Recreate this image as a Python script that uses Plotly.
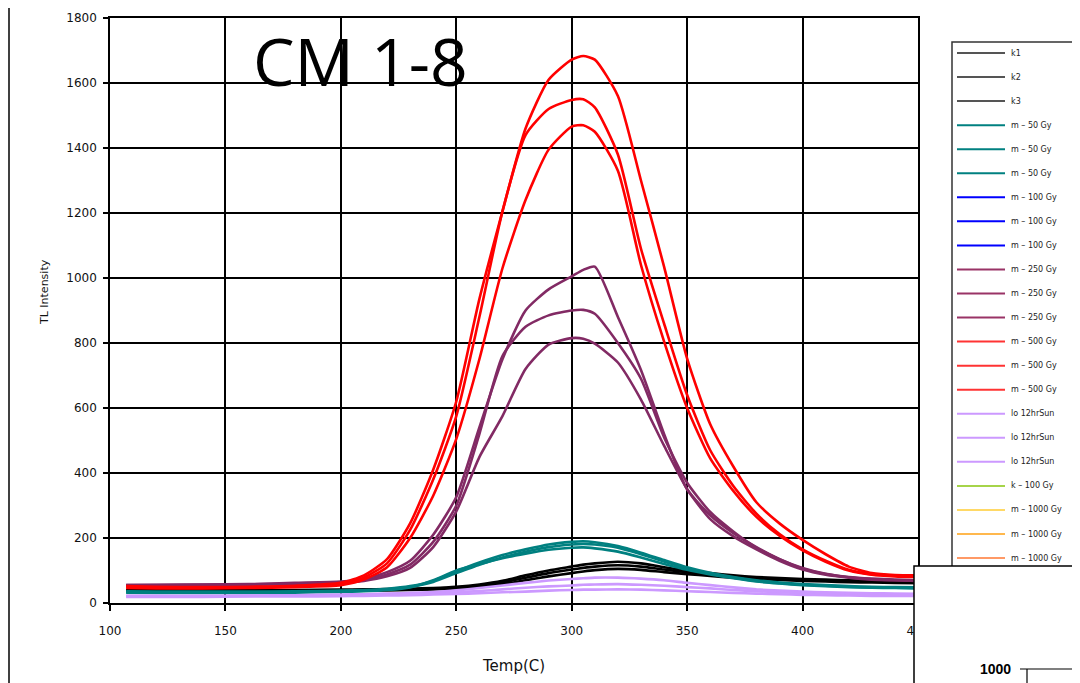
import plotly.graph_objects as go

# ---------------- data ----------------
temp = [107, 120, 140, 160, 180, 200, 210, 220, 230, 240, 250, 260, 270, 280, 290, 300,
        305, 310, 320, 330, 340, 350, 360, 370, 380, 390, 400, 410, 420, 430, 440, 450]

k1 = [40, 39, 39, 39, 40, 41, 42, 43, 44, 46, 50, 57, 68, 85, 100, 112, 118, 122, 127, 122, 110, 100, 92, 85, 80, 77, 74, 72, 70, 68, 67, 66]
k2 = [38, 37, 37, 37, 38, 39, 40, 41, 42, 44, 48, 54, 63, 78, 92, 103, 108, 112, 116, 112, 103, 95, 88, 82, 77, 74, 71, 69, 67, 66, 65, 64]
k3 = [36, 35, 35, 35, 36, 37, 38, 39, 40, 42, 45, 50, 58, 70, 82, 92, 97, 101, 105, 102, 95, 89, 83, 78, 74, 71, 68, 66, 64, 63, 62, 61]

gy50_a = [36, 35, 35, 35, 36, 38, 40, 44, 52, 68, 98, 125, 148, 165, 180, 188, 190, 187, 175, 155, 132, 110, 93, 80, 70, 63, 58, 55, 52, 50, 49, 48]
gy50_b = [34, 33, 33, 33, 34, 36, 38, 42, 50, 65, 92, 118, 140, 158, 172, 180, 182, 180, 170, 150, 128, 106, 90, 78, 68, 61, 56, 53, 50, 48, 47, 46]
gy50_c = [32, 31, 31, 31, 32, 34, 36, 40, 48, 70, 100, 120, 138, 152, 164, 170, 171, 168, 158, 140, 120, 102, 88, 76, 66, 60, 55, 52, 49, 47, 46, 45]

gy250_a = [55, 56, 57, 58, 62, 66, 74, 95, 130, 210, 326, 540, 750, 900, 965, 1005, 1025, 1035, 880, 717, 520, 350, 270, 215, 172, 135, 108, 90, 80, 75, 72, 70]
gy250_b = [55, 55, 56, 57, 60, 64, 70, 88, 118, 188, 300, 520, 760, 850, 885, 900, 902, 890, 800, 690, 510, 370, 280, 220, 170, 135, 106, 89, 79, 73, 70, 68]
gy250_c = [54, 54, 55, 56, 58, 62, 68, 82, 108, 172, 282, 449, 575, 720, 795, 815, 813, 798, 740, 626, 484, 350, 258, 205, 165, 130, 103, 87, 78, 72, 70, 68]

gy500_a = [52, 50, 49, 50, 53, 62, 85, 135, 245, 410, 620, 935, 1205, 1460, 1610, 1672, 1683, 1672, 1560, 1300, 1035, 752, 550, 420, 310, 245, 194, 150, 112, 92, 86, 85]
gy500_b = [48, 47, 46, 48, 51, 58, 78, 122, 225, 380, 575, 880, 1205, 1440, 1520, 1548, 1550, 1525, 1380, 1090, 860, 640, 470, 360, 275, 212, 165, 130, 102, 88, 84, 82]
gy500_c = [46, 45, 45, 46, 49, 55, 72, 110, 200, 330, 505, 750, 1030, 1240, 1395, 1466, 1470, 1450, 1330, 1040, 805, 600, 445, 345, 265, 207, 162, 127, 100, 87, 82, 80]

sun_a = [22, 22, 22, 23, 24, 26, 27, 29, 31, 34, 39, 46, 54, 62, 69, 74, 76, 78, 78, 75, 70, 62, 55, 48, 42, 38, 35, 33, 31, 30, 29, 28]
sun_b = [21, 21, 21, 22, 23, 24, 25, 26, 28, 30, 33, 37, 42, 47, 51, 54, 56, 57, 58, 56, 53, 49, 45, 40, 36, 33, 30, 28, 27, 26, 25, 25]
sun_c = [19, 19, 19, 20, 20, 21, 22, 23, 24, 26, 28, 30, 33, 35, 38, 40, 41, 41, 42, 41, 39, 36, 34, 31, 29, 27, 25, 24, 23, 22, 22, 22]

legend_names = ["k1", "k2", "k3",
                "m \u2013 50 Gy", "m \u2013 50 Gy", "m \u2013 50 Gy",
                "m \u2013 100 Gy", "m \u2013 100 Gy", "m \u2013 100 Gy",
                "m \u2013 250 Gy", "m \u2013 250 Gy", "m \u2013 250 Gy",
                "m \u2013 500 Gy", "m \u2013 500 Gy", "m \u2013 500 Gy",
                "lo 12hrSun", "lo 12hrSun", "lo 12hrSun",
                "k \u2013 100 Gy",
                "m \u2013 1000 Gy", "m \u2013 1000 Gy", "m \u2013 1000 Gy"]
legend_colors = ["#555555", "#555555", "#555555",
                 "#008080", "#008080", "#008080",
                 "#0000ff", "#0000ff", "#0000ff",
                 "#993366", "#993366", "#993366",
                 "#ff3333", "#ff3333", "#ff3333",
                 "#cc99ff", "#cc99ff", "#cc99ff",
                 "#a6d44a",
                 "#ffd966", "#ffb84d", "#ff9966"]

# plotted series (order as drawn)
series = [
    ("k1", k1, "#000000"), ("k2", k2, "#000000"), ("k3", k3, "#000000"),
    ("m \u2013 50 Gy", gy50_a, "#008080"), ("m \u2013 50 Gy", gy50_b, "#008080"), ("m \u2013 50 Gy", gy50_c, "#008080"),
    ("m \u2013 250 Gy", gy250_a, "#822a64"), ("m \u2013 250 Gy", gy250_b, "#822a64"), ("m \u2013 250 Gy", gy250_c, "#822a64"),
    ("m \u2013 500 Gy", gy500_a, "#ff0000"), ("m \u2013 500 Gy", gy500_b, "#ff0000"), ("m \u2013 500 Gy", gy500_c, "#ff0000"),
    ("lo 12hrSun", sun_a, "#cc99ff"), ("lo 12hrSun", sun_b, "#cc99ff"), ("lo 12hrSun", sun_c, "#cc99ff"),
]

x_ticks = [100, 150, 200, 250, 300, 350, 400, 450]
y_ticks = [0, 200, 400, 600, 800, 1000, 1200, 1400, 1600, 1800]

# ---------------- layout geometry (page pixels; page body has an 8px margin) ----------------
OFF = 8
W, H = 1080 - OFF, 683 - OFF
PL, PR, PT, PB = 110, 918, 18, 603          # plot area in page pixels
L, T = PL - OFF, PT - OFF
R, B = W - (PR - OFF), H - (PB - OFF)
PW, PH = PR - PL, PB - PT


def px(x):
    return (x - PL) / PW


def py(y):
    return (PB - y) / PH


fig = go.Figure()
for name, vals, col in series:
    fig.add_trace(go.Scatter(x=temp, y=vals, mode="lines", name=name,
                             line=dict(color=col, width=2.6, shape="spline", smoothing=0.6),
                             showlegend=False))

tick_font = dict(family="DejaVu Sans", size=12, color="#111111")
fig.update_xaxes(range=[100, 450], tickvals=x_ticks, showgrid=True, gridcolor="#000000", gridwidth=1.6,
                 showline=True, linecolor="#000000", linewidth=1.6, mirror=True,
                 ticks="outside", ticklen=6, tickcolor="#000000", tickwidth=1.5,
                 tickfont=tick_font, ticklabelstandoff=10, zeroline=False)
fig.update_yaxes(range=[0, 1800], tickvals=y_ticks, showgrid=True, gridcolor="#000000", gridwidth=1.6,
                 showline=True, linecolor="#000000", linewidth=1.6, mirror=True,
                 ticks="outside", ticklen=5, tickcolor="#000000", tickwidth=1.5,
                 tickfont=tick_font, ticklabelstandoff=4, zeroline=False)

shapes = []
annotations = []

# axis titles
annotations.append(dict(xref="paper", yref="paper", x=px(513), y=py(666), text="Temp(C)", showarrow=False,
                        xanchor="center", yanchor="middle",
                        font=dict(family="DejaVu Sans", size=15, color="#111111")))
annotations.append(dict(xref="paper", yref="paper", x=px(44), y=py(292), text="TL Intensity", showarrow=False,
                        xanchor="center", yanchor="middle", textangle=-90,
                        font=dict(family="DejaVu Sans", size=11, color="#111111")))
# big label
annotations.append(dict(xref="paper", yref="paper", x=px(360), y=py(60), text="CM 1-8", showarrow=False,
                        xanchor="center", yanchor="middle",
                        font=dict(family="Open Sans", size=66, color="#000000")))

# legend box and entries
shapes.append(dict(type="rect", xref="paper", yref="paper", x0=px(952), x1=px(1077), y0=py(600), y1=py(42),
                   line=dict(color="#333333", width=1.5), fillcolor="#ffffff", layer="above"))
for i, (nm, col) in enumerate(zip(legend_names, legend_colors)):
    yy = 53 + i * 24.05
    shapes.append(dict(type="line", xref="paper", yref="paper", x0=px(957), x1=px(1005), y0=py(yy), y1=py(yy),
                       line=dict(color=col, width=2), layer="above"))
    annotations.append(dict(xref="paper", yref="paper", x=px(1009), y=py(yy), text=nm, showarrow=False,
                            xanchor="left", yanchor="middle",
                            font=dict(family="DejaVu Sans", size=8, color="#222222")))

# overlapping second chart panel in the lower right corner
shapes.append(dict(type="rect", xref="paper", yref="paper", x0=px(914), x1=px(1100), y0=py(700), y1=py(566),
                   line=dict(color="#000000", width=1.5), fillcolor="#ffffff", layer="above"))
shapes.append(dict(type="line", xref="paper", yref="paper", x0=px(1020), x1=px(1085), y0=py(669), y1=py(669),
                   line=dict(color="#000000", width=1.2), layer="above"))
shapes.append(dict(type="line", xref="paper", yref="paper", x0=px(1027), x1=px(1027), y0=py(669), y1=py(700),
                   line=dict(color="#000000", width=1.2), layer="above"))
annotations.append(dict(xref="paper", yref="paper", x=px(1013), y=py(669), text="<b>1000</b>", showarrow=False,
                        xanchor="right", yanchor="middle",
                        font=dict(family="Liberation Sans", size=14, color="#000000")))

# slide border line on the left
shapes.append(dict(type="line", xref="paper", yref="paper", x0=px(9), x1=px(9), y0=py(700), y1=py(-10),
                   line=dict(color="#000000", width=1.5), layer="above"))

fig.update_layout(width=W, height=H, margin=dict(l=L, r=R, t=T, b=B, autoexpand=False),
                  paper_bgcolor="#ffffff", plot_bgcolor="#ffffff", showlegend=False,
                  shapes=shapes, annotations=annotations)

fig.write_html("out.html")
